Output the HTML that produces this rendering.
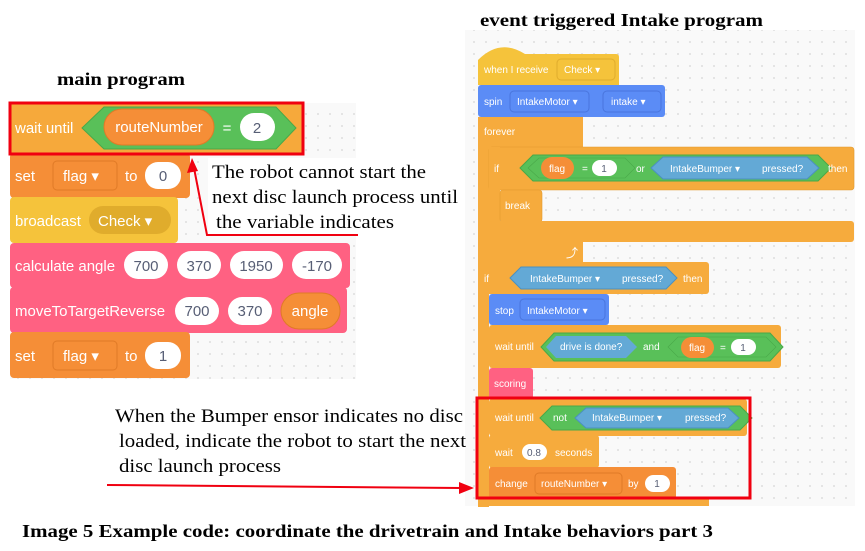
<!DOCTYPE html>
<html><head><meta charset="utf-8"><style>
html,body{margin:0;padding:0;background:#fff;width:865px;height:551px;overflow:hidden}
svg{display:block}
.s{font-family:"Liberation Serif",serif;fill:#000}
.b{font-family:"Liberation Sans",sans-serif;fill:#fff}
.d{font-family:"Liberation Sans",sans-serif;fill:#575e75}
</style></head><body>
<svg width="865" height="551" viewBox="0 0 865 551" xmlns="http://www.w3.org/2000/svg">
<defs>
<pattern id="dots" width="12" height="12" patternUnits="userSpaceOnUse"><rect width="12" height="12" fill="#f9f9f9"/><circle cx="6" cy="6" r="0.9" fill="#d6d6d6"/></pattern>
</defs>
<rect x="10" y="103" width="346" height="276" fill="url(#dots)"/>
<rect x="465" y="30" width="390" height="476" fill="url(#dots)"/>

<text x="480" y="26" class="s" font-size="18" font-weight="bold" textLength="283" lengthAdjust="spacingAndGlyphs">event triggered Intake program</text>
<text x="57" y="85" class="s" font-size="18" font-weight="bold" textLength="128" lengthAdjust="spacingAndGlyphs">main program</text>

<!-- LEFT PROGRAM -->
<rect x="10" y="103" width="293" height="51" rx="4" fill="#f6a93b"/>
<polygon points="82,128 104,107 276,107 296,128 276,149 104,149" fill="#59c059" stroke="#49a849"/>
<rect x="104" y="109" width="110" height="36" rx="18" fill="#f58e37" stroke="#e07a27"/>
<text x="159" y="132" class="b" font-size="15" text-anchor="middle">routeNumber</text>
<text x="227" y="133" class="b" font-size="15" text-anchor="middle">=</text>
<rect x="240" y="113" width="35" height="28" rx="14" fill="#fff"/>
<text x="257" y="133" class="d" font-size="15" text-anchor="middle">2</text>
<text x="15" y="133" class="b" font-size="15">wait until</text>

<rect x="10" y="153" width="180" height="45" rx="4" fill="#f58e37"/>
<rect x="53" y="161" width="64" height="29" rx="4" fill="#f58e37" stroke="#e07a27"/>
<text x="15" y="181" class="b" font-size="15">set</text>
<text x="63" y="181" class="b" font-size="15">flag ▾</text>
<text x="125" y="181" class="b" font-size="15">to</text>
<rect x="145" y="162" width="36" height="27" rx="13" fill="#fff"/>
<text x="163" y="181" class="d" font-size="15" text-anchor="middle">0</text>

<rect x="10" y="197" width="168" height="46" rx="4" fill="#f5c33b"/>
<rect x="89" y="206" width="82" height="28" rx="14" fill="#e0ac2c"/>
<text x="15" y="226" class="b" font-size="15">broadcast</text>
<text x="98" y="226" class="b" font-size="15">Check ▾</text>

<rect x="10" y="243" width="340" height="45" rx="4" fill="#ff6182"/>
<text x="15" y="271" class="b" font-size="15">calculate angle</text>
<rect x="124" y="251" width="44" height="28" rx="14" fill="#fff"/><text x="146" y="271" class="d" font-size="15" text-anchor="middle">700</text>
<rect x="177" y="251" width="44" height="28" rx="14" fill="#fff"/><text x="199" y="271" class="d" font-size="15" text-anchor="middle">370</text>
<rect x="230" y="251" width="53" height="28" rx="14" fill="#fff"/><text x="256" y="271" class="d" font-size="15" text-anchor="middle">1950</text>
<rect x="292" y="251" width="50" height="28" rx="14" fill="#fff"/><text x="317" y="271" class="d" font-size="15" text-anchor="middle">-170</text>

<rect x="10" y="287" width="337" height="46" rx="4" fill="#ff6182"/>
<text x="15" y="316" class="b" font-size="15">moveToTargetReverse</text>
<rect x="175" y="297" width="44" height="28" rx="14" fill="#fff"/><text x="197" y="316" class="d" font-size="15" text-anchor="middle">700</text>
<rect x="228" y="297" width="44" height="28" rx="14" fill="#fff"/><text x="250" y="316" class="d" font-size="15" text-anchor="middle">370</text>
<rect x="281" y="293" width="59" height="36" rx="18" fill="#f58e37" stroke="#e07a27"/><text x="310" y="316" class="b" font-size="15" text-anchor="middle">angle</text>

<rect x="10" y="332" width="180" height="46" rx="4" fill="#f58e37"/>
<rect x="53" y="341" width="64" height="29" rx="4" fill="#f58e37" stroke="#e07a27"/>
<text x="15" y="361" class="b" font-size="15">set</text>
<text x="63" y="361" class="b" font-size="15">flag ▾</text>
<text x="125" y="361" class="b" font-size="15">to</text>
<rect x="145" y="342" width="36" height="27" rx="13" fill="#fff"/>
<text x="163" y="361" class="d" font-size="15" text-anchor="middle">1</text>

<rect x="10" y="103" width="293" height="51" fill="none" stroke="#f00010" stroke-width="3"/>

<!-- annotation top -->
<rect x="208" y="158" width="256" height="76" fill="#fff"/>
<text class="s" font-size="19">
<tspan x="212" y="178" textLength="214" lengthAdjust="spacingAndGlyphs">The robot cannot start the</tspan>
</text>
<text class="s" font-size="19"><tspan x="212" y="203" textLength="246" lengthAdjust="spacingAndGlyphs">next disc launch process until</tspan></text>
<text class="s" font-size="19"><tspan x="216" y="228" textLength="178" lengthAdjust="spacingAndGlyphs">the variable indicates</tspan></text>
<polyline points="194,168 207,235 358,235" fill="none" stroke="#f00010" stroke-width="2"/>
<polygon points="192,158 187,173 198,171" fill="#f00010"/>

<!-- RIGHT PROGRAM -->
<g font-size="10">
<path d="M478,60 Q500,38 525,54 L616,54 Q619,54 619,57 L619,85 L478,85 Z" fill="#f5c33b"/>
<rect x="557" y="59" width="58" height="21" rx="4" fill="#f5c33b" stroke="#e0ac2c"/>
<text x="484" y="73" class="b">when I receive</text><text x="564" y="73" class="b">Check ▾</text>

<rect x="478" y="85" width="187" height="32" rx="3" fill="#5b8cf6"/>
<rect x="510" y="91" width="79" height="21" rx="4" fill="#5b8cf6" stroke="#4a75dd"/>
<rect x="603" y="91" width="58" height="21" rx="4" fill="#5b8cf6" stroke="#4a75dd"/>
<text x="484" y="105" class="b">spin</text><text x="517" y="105" class="b">IntakeMotor ▾</text><text x="611" y="105" class="b">intake ▾</text>

<rect x="478" y="117" width="105" height="30" fill="#f6ab3d"/>
<rect x="478" y="117" width="11" height="390" fill="#f6ab3d"/>
<text x="484" y="135" class="b">forever</text>
<rect x="489" y="147" width="365" height="43" rx="3" fill="#f6ab3d" stroke="#e29a2f" stroke-width="0.6"/>
<rect x="489" y="147" width="11" height="95" fill="#f6ab3d"/>
<polygon points="520,168 533,155 818,155 831,168 818,181 533,181" fill="#59c059" stroke="#49a849"/>
<polygon points="528,168 539,158 625,158 635,168 625,178 539,178" fill="#59c059" stroke="#49a849" stroke-width="0.6"/>
<rect x="541" y="157" width="33" height="22" rx="11" fill="#f58e37"/>
<text x="557" y="172" class="b" text-anchor="middle">flag</text>
<text x="582" y="172" class="b">=</text>
<rect x="592" y="160" width="25" height="16" rx="8" fill="#fff"/><text x="604" y="172" class="d" text-anchor="middle">1</text>
<text x="636" y="172" class="b">or</text>
<polygon points="651,168 663,157 807,157 819,168 807,179 663,179" fill="#63a9d6" stroke="#4b90c0"/>
<text x="670" y="172" class="b">IntakeBumper ▾</text><text x="762" y="172" class="b">pressed?</text>
<text x="494" y="172" class="b">if</text><text x="828" y="172" class="b">then</text>
<rect x="500" y="190" width="42" height="32" rx="3" fill="#f6ab3d" stroke="#e29a2f" stroke-width="0.6"/>
<text x="505" y="209" class="b">break</text>
<rect x="489" y="221" width="365" height="21" rx="3" fill="#f6ab3d"/>
<rect x="478" y="241" width="105" height="21" fill="#f6ab3d"/>
<text x="566" y="257" class="b" font-size="12">⤴</text>

<rect x="478" y="262" width="231" height="32" rx="3" fill="#f6ab3d"/>
<polygon points="510,278 521,267 666,267 677,278 666,289 521,289" fill="#63a9d6" stroke="#4b90c0"/>
<text x="484" y="282" class="b">if</text><text x="530" y="282" class="b">IntakeBumper ▾</text><text x="622" y="282" class="b">pressed?</text><text x="683" y="282" class="b">then</text>

<rect x="489" y="294" width="120" height="31" rx="3" fill="#5b8cf6"/>
<rect x="520" y="299" width="85" height="21" rx="4" fill="#5b8cf6" stroke="#4a75dd"/>
<text x="495" y="314" class="b">stop</text><text x="527" y="314" class="b">IntakeMotor ▾</text>

<rect x="489" y="325" width="292" height="43" rx="3" fill="#f6ab3d"/>
<polygon points="541,347 554,333 770,333 783,347 770,361 554,361" fill="#59c059" stroke="#49a849"/>
<polygon points="546,347 556,336 626,336 637,347 626,358 556,358" fill="#63a9d6"/>
<text x="495" y="350" class="b">wait until</text><text x="560" y="350" class="b">drive is done?</text><text x="643" y="350" class="b">and</text>
<polygon points="668,347 678,337 766,337 776,347 766,357 678,357" fill="#59c059" stroke="#49a849" stroke-width="0.6"/>
<rect x="681" y="337" width="33" height="21" rx="10.5" fill="#f58e37"/><text x="697" y="351" class="b" text-anchor="middle">flag</text>
<text x="720" y="351" class="b">=</text>
<rect x="731" y="339" width="25" height="16" rx="8" fill="#fff"/><text x="743" y="351" class="d" text-anchor="middle">1</text>

<rect x="489" y="368" width="44" height="31" rx="3" fill="#ff6182"/>
<text x="494" y="387" class="b">scoring</text>

<rect x="489" y="399" width="258" height="37" rx="3" fill="#f6ab3d"/>
<polygon points="540,418 552,406 740,406 752,418 740,430 552,430" fill="#59c059" stroke="#49a849"/>
<polygon points="575,418 586,408 728,408 739,418 728,428 586,428" fill="#63a9d6" stroke="#4b90c0"/>
<text x="495" y="421" class="b">wait until</text><text x="553" y="421" class="b">not</text><text x="592" y="421" class="b">IntakeBumper ▾</text><text x="685" y="421" class="b">pressed?</text>

<rect x="489" y="435" width="110" height="33" rx="3" fill="#f6ab3d"/>
<rect x="522" y="444" width="25" height="16" rx="8" fill="#fff"/><text x="534" y="456" class="d" text-anchor="middle">0.8</text>
<text x="495" y="456" class="b">wait</text><text x="555" y="456" class="b">seconds</text>

<rect x="489" y="467" width="187" height="32" rx="3" fill="#f58e37"/>
<rect x="535" y="473" width="87" height="21" rx="4" fill="#f58e37" stroke="#e07a27"/>
<rect x="645" y="475" width="25" height="17" rx="8.5" fill="#fff"/><text x="657" y="487" class="d" text-anchor="middle">1</text>
<text x="495" y="487" class="b">change</text><text x="541" y="487" class="b">routeNumber ▾</text><text x="628" y="487" class="b">by</text>
<rect x="478" y="499" width="231" height="7" fill="#f6ab3d"/>
</g>
<rect x="477" y="398" width="273" height="100" fill="none" stroke="#f00010" stroke-width="3"/>

<!-- annotation bottom -->
<text class="s" font-size="19"><tspan x="115" y="422" textLength="348" lengthAdjust="spacingAndGlyphs">When the Bumper ensor indicates no disc</tspan></text>
<text class="s" font-size="19"><tspan x="119" y="447" textLength="347" lengthAdjust="spacingAndGlyphs">loaded, indicate the robot to start the next</tspan></text>
<text class="s" font-size="19"><tspan x="119" y="472" textLength="162" lengthAdjust="spacingAndGlyphs">disc launch process</tspan></text>
<line x1="107" y1="485" x2="462" y2="488" stroke="#f00010" stroke-width="2"/>
<polygon points="474,488 459,482 459,494" fill="#f00010"/>

<text x="22" y="537" class="s" font-size="18" font-weight="bold" textLength="691" lengthAdjust="spacingAndGlyphs">Image 5 Example code: coordinate the drivetrain and Intake behaviors part 3</text>
</svg>
</body></html>
